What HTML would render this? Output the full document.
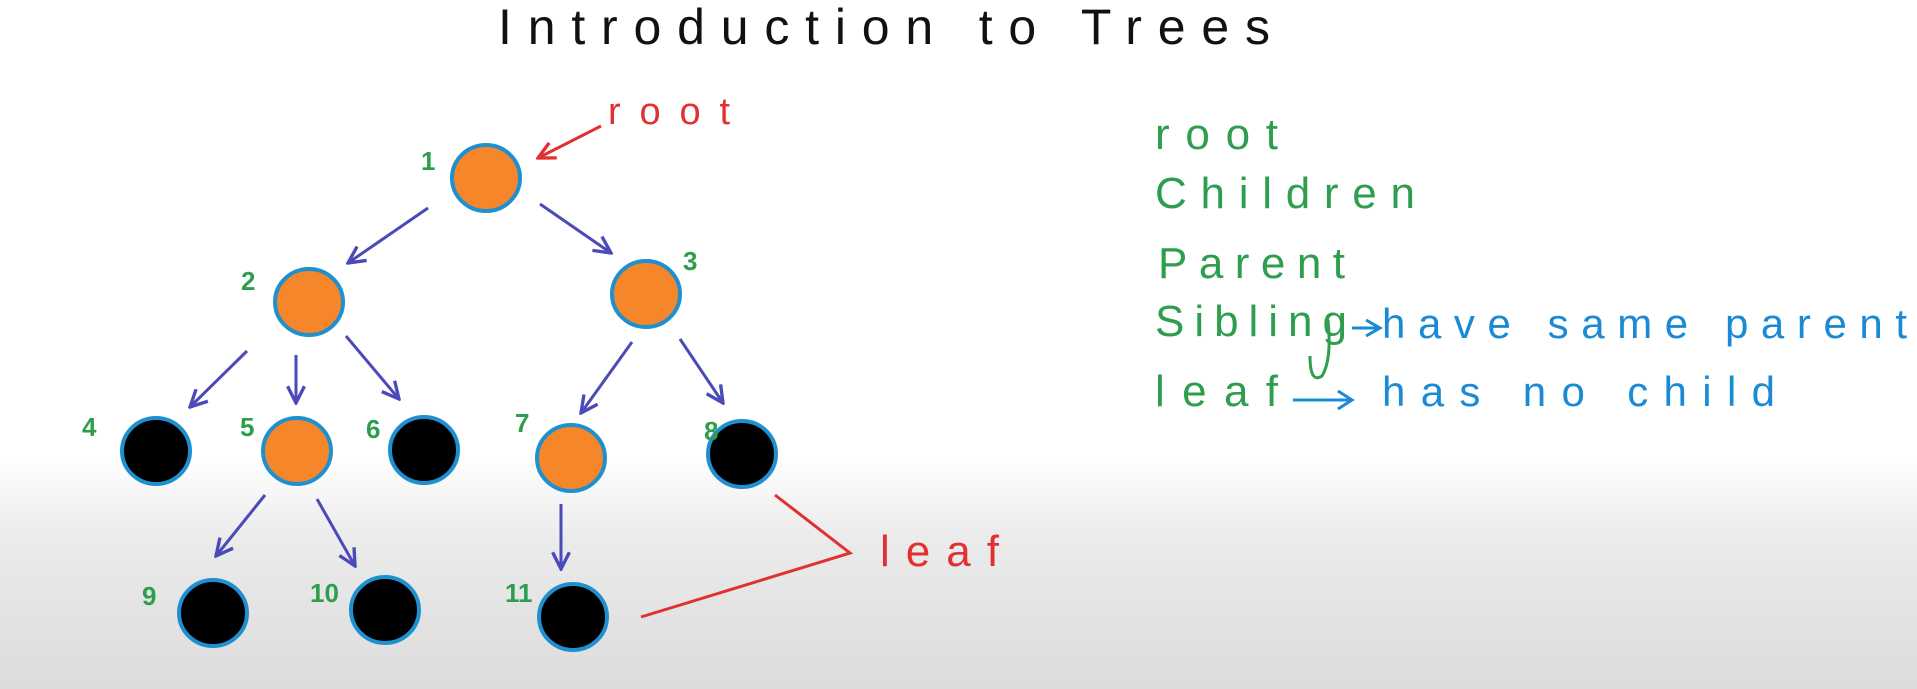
<!DOCTYPE html>
<html><head><meta charset="utf-8"><style>
html,body{margin:0;padding:0;width:1917px;height:689px;overflow:hidden;}
body{background:linear-gradient(to bottom,#ffffff 0px,#ffffff 455px,#ebebeb 540px,#dcdcdc 689px);}
svg{position:absolute;left:0;top:0;}
text{font-family:"Liberation Sans",sans-serif;}
</style></head><body>
<svg width="1917" height="689" viewBox="0 0 1917 689">
<defs>
<marker id="ab" viewBox="0 0 10 10" refX="9" refY="5" markerWidth="7" markerHeight="7" orient="auto"><path d="M1,1 L9,5 L1,9" fill="none" stroke="#4a4ab8" stroke-width="1.6"/></marker>
<marker id="ar" viewBox="0 0 10 10" refX="9" refY="5" markerWidth="7" markerHeight="7" orient="auto"><path d="M1,1 L9,5 L1,9" fill="none" stroke="#e03030" stroke-width="1.6"/></marker>
</defs>
<text x="498" y="44" font-size="50" fill="#111" textLength="772" lengthAdjust="spacing">Introduction to Trees</text>

<g stroke="#4a4ab8" stroke-width="3" fill="none" marker-end="url(#ab)">
<line x1="428" y1="208" x2="348" y2="263"/>
<line x1="540" y1="204" x2="611" y2="253"/>
<line x1="247" y1="351" x2="190" y2="407"/>
<line x1="296" y1="355" x2="296" y2="403"/>
<line x1="346" y1="336" x2="399" y2="399"/>
<line x1="632" y1="342" x2="581" y2="413"/>
<line x1="680" y1="339" x2="723" y2="403"/>
<line x1="265" y1="495" x2="216" y2="556"/>
<line x1="317" y1="499" x2="355" y2="566"/>
<line x1="561" y1="504" x2="561" y2="569"/>
</g>

<g stroke="#1e90d0" stroke-width="4">
<ellipse cx="486" cy="178" rx="34" ry="33" fill="#f5862a"/>
<ellipse cx="309" cy="302" rx="34" ry="33" fill="#f5862a"/>
<ellipse cx="646" cy="294" rx="34" ry="33" fill="#f5862a"/>
<ellipse cx="156" cy="451" rx="34" ry="33" fill="#000"/>
<ellipse cx="297" cy="451" rx="34" ry="33" fill="#f5862a"/>
<ellipse cx="424" cy="450" rx="34" ry="33" fill="#000"/>
<ellipse cx="571" cy="458" rx="34" ry="33" fill="#f5862a"/>
<ellipse cx="742" cy="454" rx="34" ry="33" fill="#000"/>
<ellipse cx="213" cy="613" rx="34" ry="33" fill="#000"/>
<ellipse cx="385" cy="610" rx="34" ry="33" fill="#000"/>
<ellipse cx="573" cy="617" rx="34" ry="33" fill="#000"/>
</g>

<g fill="#2e9e4e" font-size="26" font-weight="bold">
<text x="421" y="170">1</text>
<text x="241" y="290">2</text>
<text x="683" y="270">3</text>
<text x="82" y="436">4</text>
<text x="240" y="436">5</text>
<text x="366" y="438">6</text>
<text x="515" y="432">7</text>
<text x="704" y="440">8</text>
<text x="142" y="605">9</text>
<text x="310" y="602">10</text>
<text x="505" y="602">11</text>
</g>

<text x="608" y="124" font-size="38" fill="#e03030" textLength="122" lengthAdjust="spacing">root</text>
<line x1="601" y1="126" x2="538" y2="158" stroke="#e03030" stroke-width="3" marker-end="url(#ar)"/>
<polyline points="775,495 850,553 641,617" fill="none" stroke="#e03030" stroke-width="3"/>
<text x="880" y="566" font-size="44" fill="#e03030" textLength="119" lengthAdjust="spacing">leaf</text>

<g fill="#2e9e4e" font-size="44">
<text x="1155" y="149" textLength="123" lengthAdjust="spacing">root</text>
<text x="1155" y="208" textLength="260" lengthAdjust="spacing">Children</text>
<text x="1158" y="278" textLength="187" lengthAdjust="spacing">Parent</text>
<text x="1155" y="336" textLength="192" lengthAdjust="spacing">Sibling</text>
<text x="1155" y="406" textLength="123" lengthAdjust="spacing">leaf</text>
</g>
<g fill="#1a8ad4" font-size="42">
<text x="1382" y="338" textLength="525" lengthAdjust="spacing">have same parent</text>
<text x="1382" y="406" textLength="393" lengthAdjust="spacing">has no child</text>
</g>
<g stroke="#1a8ad4" stroke-width="3" fill="none">
<line x1="1378" y1="328" x2="1352" y2="328"/>
<path d="M1366,320 L1380,328 L1366,336"/>
<line x1="1293" y1="400" x2="1350" y2="400"/>
<path d="M1338,391 L1352,400 L1338,409"/>
</g>
<path d="M1328,320 q4,40 -6,56 q-12,8 -12,-20" stroke="#2e9e4e" stroke-width="3" fill="none"/>
</svg>
</body></html>
